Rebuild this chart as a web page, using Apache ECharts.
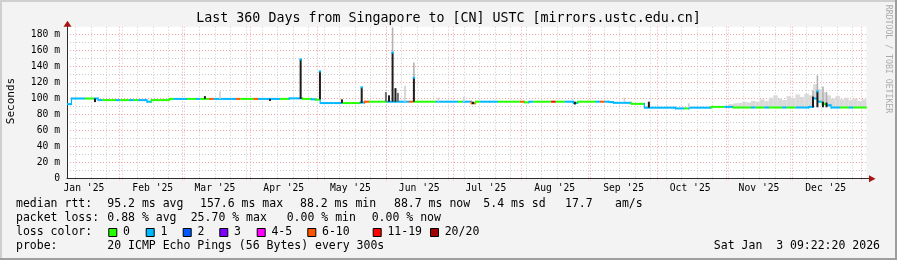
<!DOCTYPE html>
<html><head><meta charset="utf-8">
<script src="https://cdn.jsdelivr.net/npm/echarts@6/dist/echarts.min.js"></script>
<style>html,body{margin:0;padding:0;background:#f3f3f3}#c{width:897px;height:260px}</style>
</head><body><div id="c"></div>
<script>
// ---------------- data ----------------
const titleText = "Last 360 Days from Singapore to [CN] USTC [mirrors.ustc.edu.cn]";
const yTitle = "Seconds";
const sideText = "RRDTOOL / TOBI OETIKER";
const spanDays = 360;
const stepDays = 2;
const monthLabels = ["Jan '25","Feb '25","Mar '25","Apr '25","May '25","Jun '25","Jul '25","Aug '25","Sep '25","Oct '25","Nov '25","Dec '25"];
const yTickValues = [0,20,40,60,80,100,120,140,160,180];

// median rtt (ms), one value per 2-day step
const median = [
 93,100,100,100,100,100,100,98,98,98,
 98,98,98,98,98,98,98,98,96,98,
 98,98,98,99.5,99.5,99.5,99.5,99.5,99.5,99.5,
 99.5,99.5,99.5,99.5,99.5,99.5,99.5,99.5,99.5,99.5,
 99.5,99.5,99.5,99.5,99.5,99.5,99.5,99.5,99.5,99.5,
 100.2,100.2,100.2,99.5,99.5,99,98.5,94.3,94.3,94.3,
 94.3,94.3,94.3,94.3,94.3,94.3,95,96,96,96,
 96,96,96,96,96,96,96,96,96,96,
 96,96,96,96,96,96,96,96,96,96,
 96,94,96,96,96,96,96,96,96,96,
 96,96,96,95.2,96,96,96,96,96,96,
 96,96,96,96,94.5,96,96,96,96,96,
 96,96,95.5,94.6,94.6,94.6,94.6,93.3,93.3,93.3,
 88.5,88.5,88.5,88.5,88.5,88.5,88.5,87.6,87.6,87.6,
 88.5,88.5,88.5,88.5,88.5,89.5,89.5,89.5,89.5,89.5,
 88.7,88.7,88.7,88.7,88.7,88.7,88.7,88.7,88.7,88.7,
 88.7,88.7,88.7,88.7,88.7,88.7,88.7,89.5,100,96,
 93,91.5,88.7,88.7,88.7,88.7,88.7,88.7,88.7,88.7
];
// loss class per step (index into lossColors)
const loss = [
 1,1,1,1,0,0,1,1,0,0,
 0,1,0,0,1,0,1,1,1,0,
 0,0,0,0,1,1,1,0,0,1,
 0,0,5,1,1,1,1,1,5,0,
 0,0,5,1,1,1,1,1,0,0,
 1,1,1,0,0,1,0,1,1,1,
 1,1,0,0,0,0,1,5,0,0,
 0,0,1,1,1,1,1,5,0,0,
 0,0,0,1,1,1,1,1,0,1,
 1,5,0,1,1,1,1,0,0,0,
 0,0,5,0,1,0,0,0,0,6,
 0,0,1,1,1,0,0,0,0,1,
 5,1,1,1,1,1,1,0,0,0,
 1,1,1,1,1,1,1,1,1,0,
 1,1,1,1,1,0,0,0,1,1,
 0,0,0,0,1,0,0,1,0,0,
 0,1,0,0,1,1,1,1,1,1,
 0,1,1,1,0,0,1,0,0,0
];
// upper edge of the light smoke per step (0 = none)
const smokeTop = [
 0,0,0,0,0,0,0,0,0,0, 0,0,0,0,0,0,0,0,0,0,
 0,0,0,0,0,0,0,0,0,0, 0,0,0,0,0,0,0,0,0,0,
 0,0,0,0,0,0,0,0,0,0, 0,0,0,0,0,0,0,0,0,0,
 0,0,0,0,0,0,0,0,0,0, 0,0,0,0,0,0,0,0,0,0,
 0,0,0,0,0,0,0,0,0,0, 0,0,0,0,0,0,0,0,0,0,
 0,0,0,0,0,0,0,0,0,0, 0,0,0,0,0,0,0,0,0,0,
 0,0,0,0,0,0,0,0,0,0, 0,0,0,0,0,0,0,0,0,0,
 0,0,0,0,0,0,0,0,0,93,
 94,94.5,96,95,97,96,99,97,101,104,
 100,98,103,101,105,102,106,104,118,112,
 108,104,100,103,99,101,98,100,97,99
];
// narrow spikes: day offset from start, dark body lo/hi, smoke top, shade (0 dark,1 mid,2 smoke only), cap loss class (-1 none)
const spikeDays  = [12.6,62.1,68.9,91.4,105.2,113.9,123.8,132.7,143.6,145.0,146.6,147.9,149.0,152.2,156.2,167.2,178.7,182.8,228.7,251.0,262.0,280.0,335.9,337.9,340.4,342.0];
const spikeLo    = [95.5,99.5,99.5,97,99.5,99,94.3,94.3,96,96,96,96,96,96,96,96,96,93,92.5,96,88.5,88.5,89,89,89,89];
const spikeHi    = [100,103,99.5,99.5,149,134,99,114,108,104,157.5,113,107,96,126,96,96,96,96,96,96,88.5,102.5,109,96,95];
const spikeSmoke = [0,0,109,0,0,0,0,0,0,0,189,0,0,116,145,101,102,0,0,101,0,94,110,129,115,108];
const spikeShade = [0,0,2,0,0,0,0,0,1,0,0,0,1,2,0,2,2,0,0,2,0,2,0,0,0,0];
const spikeCap   = [-1,-1,-1,-1,1,1,-1,1,-1,-1,1,-1,-1,-1,1,-1,-1,-1,-1,-1,-1,-1,-1,1,-1,-1];

const lossColors = ['#26ff00','#00b8ff','#0059ff','#7e00ff','#ff00ff','#ff5500','#ff0000','#a10000'];
const lossLabels = ['0','1','2','3','4-5','6-10','11-19','20/20'];

const statsRtt  = ["median rtt:","95.2 ms avg","157.6 ms max","88.2 ms min","88.7 ms now","5.4 ms sd","17.7","am/s"];
const statsLoss = ["packet loss:","0.88 % avg","25.70 % max","0.00 % min","0.00 % now"];
const probeText = ["probe:","20 ICMP Echo Pings (56 Bytes) every 300s"];
const stampText = "Sat Jan  3 09:22:20 2026";

// ---------------- time helpers ----------------
const startUTC = Date.UTC(2025,0,8,9,22,20);
function dayOf(y,m,d){ return (Date.UTC(y,m,d) - startUTC)/86400000; }
const monthMidDays = monthLabels.map((_,k)=>dayOf(2025,k,16));
const monthStartDays = []; for (let k=1;k<=12;k++) monthStartDays.push(dayOf(2025,k,1));
const weekDays = []; for (let d=dayOf(2025,0,12); d<spanDays; d+=7) weekDays.push(d);

// ---------------- layout ----------------
const W=897,H=260;
const G={left:67,right:30.5,top:26.7,bottom:81.7};
const plotR = W-G.right, plotB = H-G.bottom;
const MONO = "'DejaVu Sans Mono', monospace";

const gridLines = weekDays.map(d=>[d,0]).concat(monthStartDays.map(d=>[d,1]));

const chart = echarts.init(document.getElementById('c'), null, {renderer:'canvas', width:W, height:H});

function txt(x,y,text,size,opts){
  opts=opts||{};
  return {type:'text', x:x, y:y, rotation:opts.rot||0, silent:true, z:100,
    style:{text:text, x:0, y:0, font: size+'px '+MONO, fill:opts.fill||'#000',
      align:opts.align||'left', textAlign:opts.align||'left',
      verticalAlign:'middle', textVerticalAlign:'middle'}};
}
const graphics = [];
// frame
graphics.push({type:'rect',shape:{x:0,y:0,width:W,height:2},style:{fill:'#cfcfcf'},silent:true});
graphics.push({type:'rect',shape:{x:0,y:0,width:2,height:H},style:{fill:'#cfcfcf'},silent:true});
graphics.push({type:'rect',shape:{x:0,y:H-2,width:W,height:2},style:{fill:'#9e9e9e'},silent:true});
graphics.push({type:'rect',shape:{x:W-2,y:0,width:2,height:H},style:{fill:'#9e9e9e'},silent:true});
graphics.push(txt(448.5,18.5,titleText,13.3,{align:'center'}));
graphics.push(txt(11,101,yTitle,11,{align:'center',rot:Math.PI/2}));
graphics.push(txt(888.5,59,sideText,8.2,{align:'center',rot:-Math.PI/2,fill:'#ababab'}));
// axis arrows
graphics.push({type:'line',shape:{x1:plotR,y1:Math.round(plotB)+0.5,x2:plotR+3,y2:Math.round(plotB)+0.5},style:{stroke:'#2c2c2c',lineWidth:1},silent:true});
graphics.push({type:'polygon',shape:{points:[[plotR+2.5,plotB-3],[plotR+9,plotB+0.5],[plotR+2.5,plotB+4]]},style:{fill:'#a81414'},silent:true});
graphics.push({type:'polygon',shape:{points:[[G.left-3.5,G.top],[G.left+0.5,G.top-6],[G.left+4.5,G.top]]},style:{fill:'#a81414'},silent:true});
// legend rows
const rttX=[16,107.3,200,300,394,483.3,565,615];
statsRtt.forEach((s,k)=>graphics.push(txt(rttX[k],204.3,s,11.5)));
const lossX=[16,107.3,190.7,286.7,371.7];
statsLoss.forEach((s,k)=>graphics.push(txt(lossX[k],218.3,s,11.5)));
graphics.push(txt(16,232.3,"loss color:",11.5));
const boxX=[108.3,145.7,182.7,219.3,256.7,307.3,372.7,430];
lossLabels.forEach((s,k)=>{
  graphics.push({type:'rect',shape:{x:boxX[k]+0.5,y:228.5,width:8,height:8},style:{fill:lossColors[k],stroke:'#000',lineWidth:1},silent:true,z:100});
  graphics.push(txt(boxX[k]+14.7,232.3,s,11.5));
});
graphics.push(txt(16,246,probeText[0],11.5));
graphics.push(txt(107.3,246,probeText[1],11.5));
graphics.push(txt(880,246,stampText,11.5,{align:'right'}));

const option = {
  animation:false,
  backgroundColor:'#f3f3f3',
  grid:{left:G.left,right:G.right,top:G.top,bottom:G.bottom,show:true,backgroundColor:'#ffffff',borderWidth:0,outerBoundsMode:'none'},
  xAxis:{type:'value',min:0,max:spanDays,
    splitLine:{show:false},axisTick:{show:false},
    axisLine:{show:true,onZero:false,lineStyle:{color:'#2c2c2c',width:1}},
    axisLabel:{customValues:monthMidDays,
      formatter:function(v){ const k=monthMidDays.findIndex(m=>Math.abs(m-v)<0.01); return k>=0?monthLabels[k]:''; },
      fontFamily:MONO,fontSize:9.7,color:'#000',margin:5}},
  yAxis:{type:'value',min:0,max:190,interval:10,
    axisLine:{show:true,lineStyle:{color:'#2c2c2c',width:1}},axisTick:{show:false},
    splitLine:{show:true,showMaxLine:false,lineStyle:{color:['#f0a4a4','#cbcbcb'],type:[1,2],width:1}},
    axisLabel:{formatter:function(v){ if(yTickValues.indexOf(v)<0) return ''; return v===0?'0':v+' m'; },
      fontFamily:MONO,fontSize:9.7,color:'#000',margin:7}},
  graphic:graphics,
  series:[
    { type:'custom', name:'grid', z:1, silent:true, clip:false,
      data:gridLines, encode:{x:0,y:1},
      renderItem:function(params,api){
        const p=api.coord([api.value(0),0]);
        const cs=params.coordSys;
        const x=Math.round(p[0])+0.5;
        return {type:'line',shape:{x1:x,y1:cs.y,x2:x,y2:cs.y+cs.height+2},
          style:{stroke:api.value(1)===1?'#f0a4a4':'#cbcbcb',lineWidth:1,lineDash:[1,2]}};
      }},
    { type:'custom', name:'smoke', z:2, silent:true,
      data:smokeTop.map((t,i)=>[i*stepDays,median[i],t]), encode:{x:0,y:1},
      renderItem:function(params,api){
        const d0=api.value(0),m=api.value(1),t=api.value(2);
        if(!(t>m)) return {type:'group',children:[]};
        const a=api.coord([d0,t]), b=api.coord([d0+stepDays,m]);
        return {type:'rect',shape:{x:a[0],y:a[1],width:b[0]-a[0],height:b[1]-a[1]},style:{fill:'#dadada'}};
      }},
    { type:'custom', name:'median', z:3, silent:true,
      data:median.map((v,i)=>[i*stepDays,v,loss[i]]), encode:{x:0,y:1},
      renderItem:function(params,api){
        const i=params.dataIndex;
        const d0=api.value(0),v=api.value(1),c=lossColors[api.value(2)];
        const p0=api.coord([d0,v]), p1=api.coord([d0+stepDays,v]);
        const ch=[{type:'rect',shape:{x:p0[0],y:p0[1]-1,width:p1[0]-p0[0]+0.3,height:2},style:{fill:c}}];
        if(i>0 && median[i-1]!==v){
          const pp=api.coord([d0,median[i-1]]);
          ch.push({type:'rect',shape:{x:p0[0]-0.6,y:Math.min(pp[1],p0[1])-1,width:1.2,height:Math.abs(pp[1]-p0[1])+2},style:{fill:c}});
        }
        return {type:'group',children:ch};
      }},
    { type:'custom', name:'spikes', z:4, silent:true,
      data:spikeDays.map((d,k)=>[d,spikeLo[k],spikeHi[k],spikeSmoke[k],spikeShade[k],spikeCap[k]]), encode:{x:0,y:[1,2]},
      renderItem:function(params,api){
        const d=api.value(0),lo=api.value(1),hi=api.value(2),sm=api.value(3),sh=api.value(4),cap=api.value(5);
        const ch=[];
        const pl=api.coord([d,lo]), ph=api.coord([d,hi]);
        if(sm>hi){
          const ps=api.coord([d,sm]);
          ch.push({type:'rect',shape:{x:ps[0]-0.8,y:ps[1],width:1.6,height:ph[1]-ps[1]},style:{fill:sh===2?'#cfcfcf':'#b2b2b2'}});
        }
        if(hi>lo){
          ch.push({type:'rect',shape:{x:ph[0]-1,y:ph[1],width:2,height:pl[1]-ph[1]},style:{fill:sh===1?'#707070':'#1e1e1e'}});
        }
        if(cap>=0){
          ch.push({type:'rect',shape:{x:ph[0]-1.2,y:ph[1]-1,width:2.4,height:2},style:{fill:lossColors[cap]}});
        }
        return {type:'group',children:ch};
      }}
  ]
};
chart.setOption(option);
</script>
</body></html>
